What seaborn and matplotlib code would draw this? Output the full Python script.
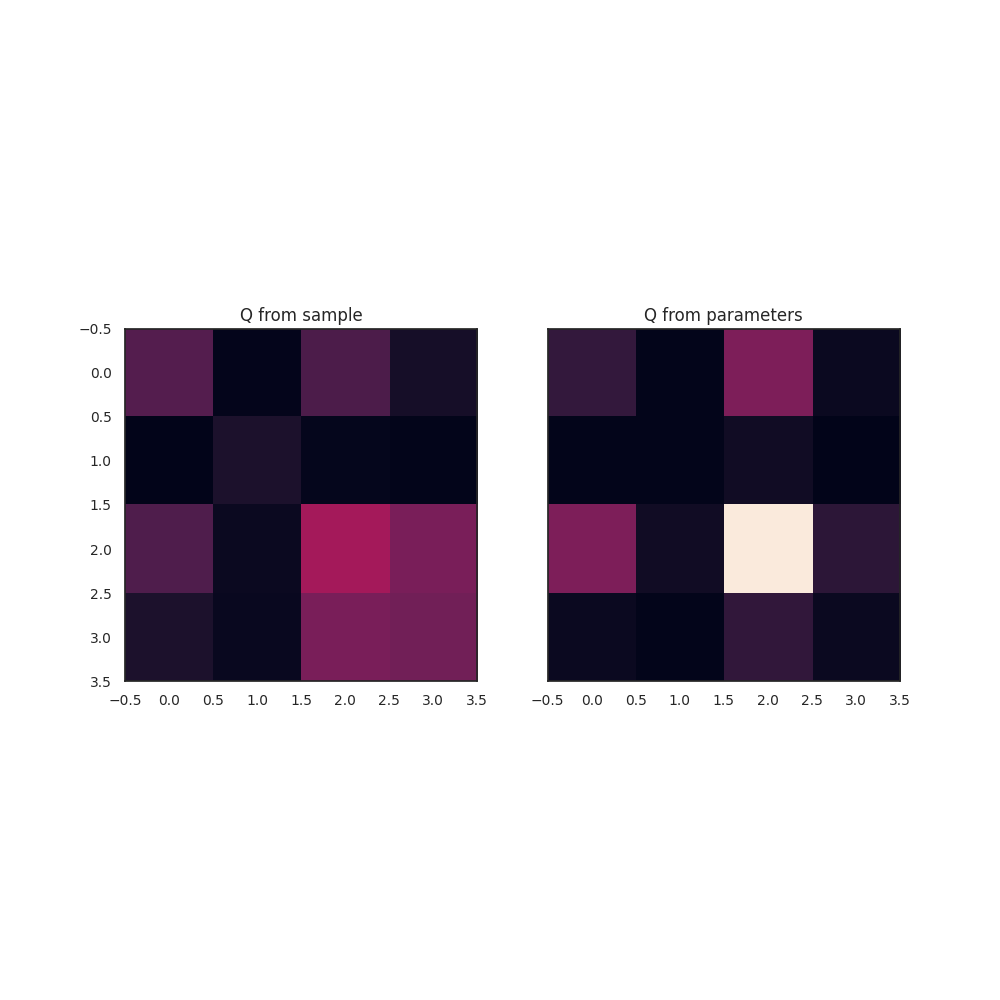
import numpy as np
import matplotlib
matplotlib.use("Agg")
import matplotlib.pyplot as plt
import seaborn as sns

titles = ["Q from sample", "Q from parameters"]

q_sample = [
    [0.22, 0.01, 0.20, 0.06],
    [0.00, 0.075, 0.015, 0.005],
    [0.21, 0.03, 0.41, 0.31],
    [0.075, 0.025, 0.31, 0.29],
]

q_params = [
    [0.14, 0.005, 0.32, 0.03],
    [0.005, 0.005, 0.045, 0.00],
    [0.32, 0.045, 1.00, 0.12],
    [0.03, 0.005, 0.13, 0.03],
]

sns.set_theme(style="white")
plt.rcParams["xtick.labelsize"] = 10
plt.rcParams["ytick.labelsize"] = 10
cmap = sns.color_palette("rocket", as_cmap=True)

fig, axes = plt.subplots(1, 2, figsize=(10, 10), dpi=100, sharey=True)
vmin = min(np.min(q_sample), np.min(q_params))
vmax = max(np.max(q_sample), np.max(q_params))
for ax, data, title in zip(axes, [q_sample, q_params], titles):
    ax.imshow(np.array(data), cmap=cmap, vmin=vmin, vmax=vmax)
    ax.set_title(title)
    ax.set_xticks(np.arange(-0.5, 3.6, 0.5))
    ax.set_yticks(np.arange(-0.5, 3.6, 0.5))

fig.savefig("out.png")
